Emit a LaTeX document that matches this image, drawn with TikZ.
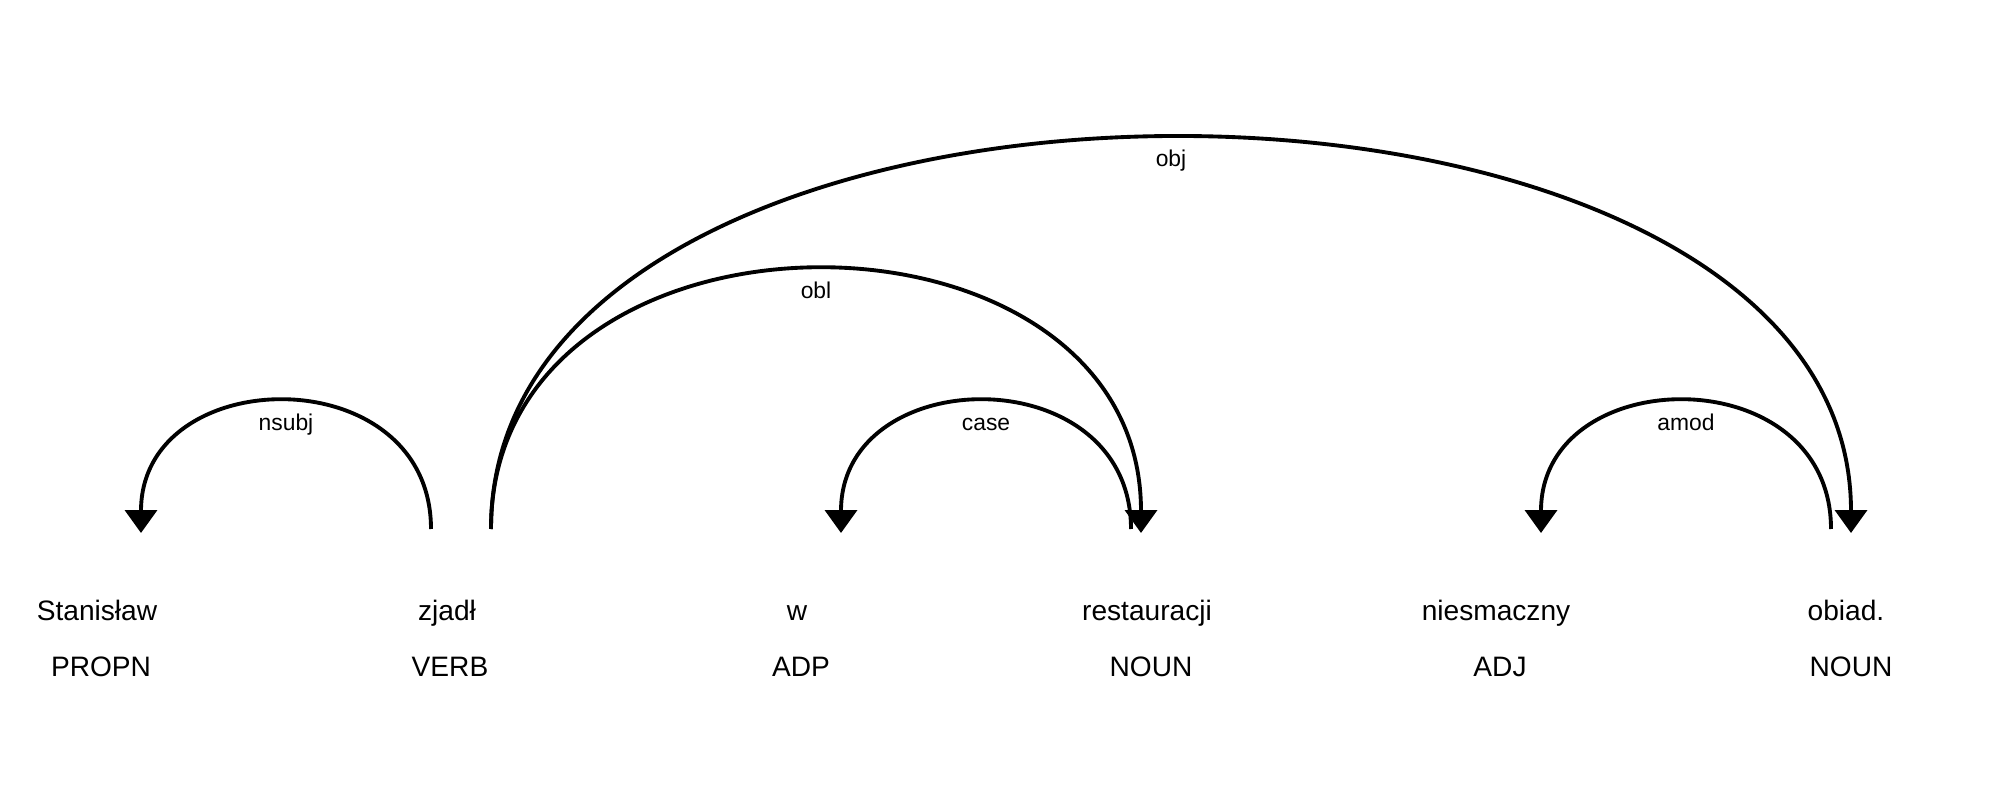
\documentclass[tikz,border=0pt]{standalone}
\usepackage{fontspec}
\setmainfont{Liberation Sans}
\usepackage{tikz}
\usetikzlibrary{arrows.meta}

\begin{document}
\begin{tikzpicture}[
    word/.style={inner sep=0pt, anchor=base, font=\fontsize{8pt}{10pt}\selectfont},
    dep/.style={line width=1.1pt, -{Triangle[width=0.32cm,length=0.23cm]}},
    lab/.style={inner sep=0pt, anchor=base, yshift=-0.28cm, font=\fontsize{6.5pt}{8pt}\selectfont}]
  \useasboundingbox (0,0) rectangle (20,7.99);

  \draw (0.97,1.79) node[word] (stanislaw) {Stanisław};
  \draw (4.47,1.79) node[word] (zjadl) {zjadł};
  \draw (7.97,1.79) node[word] (w) {w};
  \draw (11.47,1.79) node[word] (restauracji) {restauracji};
  \draw (14.96,1.79) node[word] (niesmaczny) {niesmaczny};
  \draw (18.46,1.79) node[word] (obiad) {obiad.};

  \draw (1.01,1.23) node[word] (propn) {PROPN};
  \draw (4.50,1.23) node[word] (verb) {VERB};
  \draw (8.01,1.23) node[word] (adp) {ADP};
  \draw (11.51,1.23) node[word] (noun) {NOUN};
  \draw (15.00,1.23) node[word] (adj) {ADJ};
  \draw (18.51,1.23) node[word] (noun2) {NOUN};

  \coordinate (stanislaw-in) at (1.41,2.66);
  \coordinate (zjadl-out1) at (4.31,2.70);
  \coordinate (zjadl-out2) at (4.91,2.70);
  \coordinate (w-in) at (8.41,2.66);
  \coordinate (restauracji-in) at (11.41,2.66);
  \coordinate (restauracji-out) at (11.31,2.70);
  \coordinate (niesmaczny-in) at (15.41,2.66);
  \coordinate (obiad-in) at (18.51,2.66);
  \coordinate (obiad-out) at (18.31,2.70);

  \draw[dep] (zjadl-out1) .. controls +(0,1.72) and +(0,1.72) .. node[lab,pos=0.5] {nsubj} (stanislaw-in);
  \draw[dep] (zjadl-out2) .. controls +(0,5.23) and +(0,5.23) .. node[lab,pos=0.5] {obj} (obiad-in);
  \draw[dep] (zjadl-out2) .. controls +(0,3.48) and +(0,3.48) .. node[lab,pos=0.5] {obl} (restauracji-in);
  \draw[dep] (restauracji-out) .. controls +(0,1.72) and +(0,1.72) .. node[lab,pos=0.5] {case} (w-in);
  \draw[dep] (obiad-out) .. controls +(0,1.72) and +(0,1.72) .. node[lab,pos=0.5] {amod} (niesmaczny-in);

\end{tikzpicture}
\end{document}
